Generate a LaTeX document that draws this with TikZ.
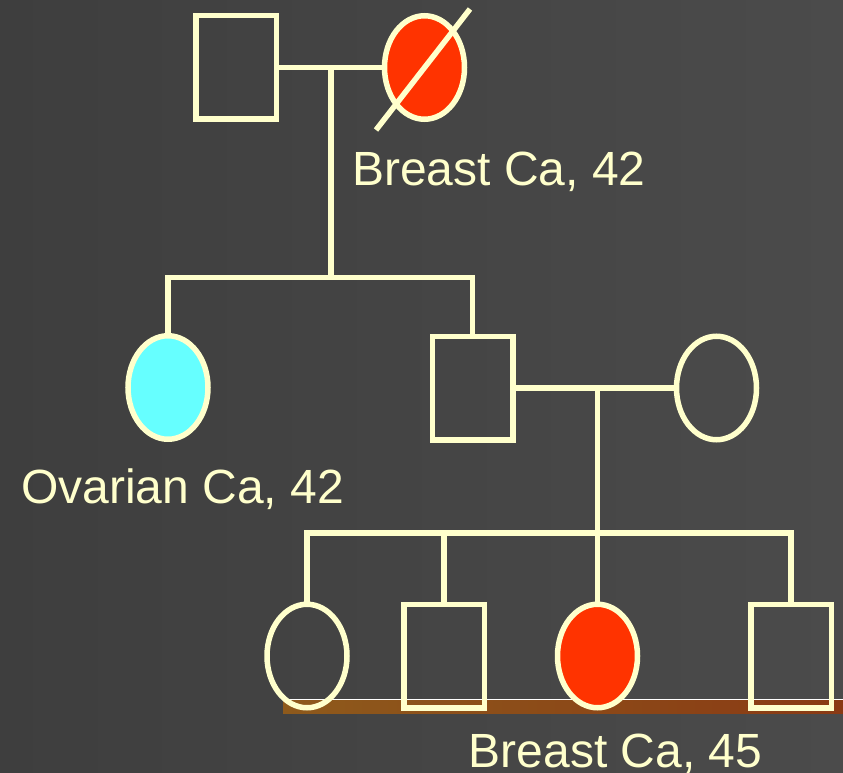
\documentclass[tikz,border=0pt]{standalone}
\usepackage{fontspec}
\setmainfont{Liberation Sans}
\usetikzlibrary{shapes.geometric}
\definecolor{cream}{HTML}{FFFFCC}
\definecolor{affected}{HTML}{FF3300}
\definecolor{ovarian}{HTML}{66FFFF}
\definecolor{bgleft}{HTML}{3E3E3E}
\definecolor{bgright}{HTML}{4B4B4B}
\definecolor{stripa}{HTML}{8E5A1C}
\definecolor{stripb}{HTML}{5C4A1E}
\definecolor{stripc}{HTML}{8A3A14}
\tikzset{
  male/.style={draw=cream, rectangle, inner sep=0pt,
    minimum width=80.5pt, minimum height=103.5pt},
  female/.style={draw=cream, ellipse, inner sep=0pt,
    minimum width=80pt, minimum height=103.5pt},
  caption/.style={text=cream, inner sep=0pt, anchor=base west,
    font=\fontsize{48}{52}\selectfont}
}
\begin{document}
\begin{tikzpicture}[x=1pt,y=-1pt,line width=5.5pt]
      % background and strip
      \useasboundingbox (0,0) rectangle (843,773);
      \fill[left color=bgleft, right color=bgright] (0,0) rectangle (843,773);
      \fill[left color=stripa, middle color=stripb, right color=stripc]
        (283,699) rectangle (843,713);
      \draw[white, line width=1pt] (283,699) -- (843,699);
      % people
      \draw
        (236,67.5) node[male] (0){}
        (424.5,67.5) node[female, fill=affected] (1){}
        (168,387.5) node[female, fill=ovarian] (2){}
        (472.5,388) node[male] (3){}
        (716.5,388) node[female] (4){}
        (307,656) node[female] (5){}
        (444,656) node[male] (6){}
        (597.5,656) node[female, fill=affected] (7){}
        (791,656) node[male] (8){};
      \draw[cream] (376,130) -- (470,9);
      % lines of descent
      \coordinate (u0) at (331,67.5);
      \coordinate (s0) at (331,277.5);
      \coordinate (u1) at (597.5,388);
      \coordinate (s1) at (597.5,533);
      \begin{scope}[draw=cream]
        \draw (0) to (1);
        \draw (u0) to (s0);
        \draw (s0) -| (2);
        \draw (s0) -| (3);
        \draw (3) to (4);
        \draw (u1) to (s1);
        \draw (s1) -| (5);
        \draw (s1) -| (6);
        \draw (s1) to (7);
        \draw (s1) -| (8);
      \end{scope}
      % captions
      \node[caption] (c1) at (349.5,185) {Breast Ca, 42};
      \node[caption] (c2) at (18.5,503) {Ovarian Ca, 42};
      \node[caption] (c7) at (466,767) {Breast Ca, 45};
    \end{tikzpicture}
\end{document}
